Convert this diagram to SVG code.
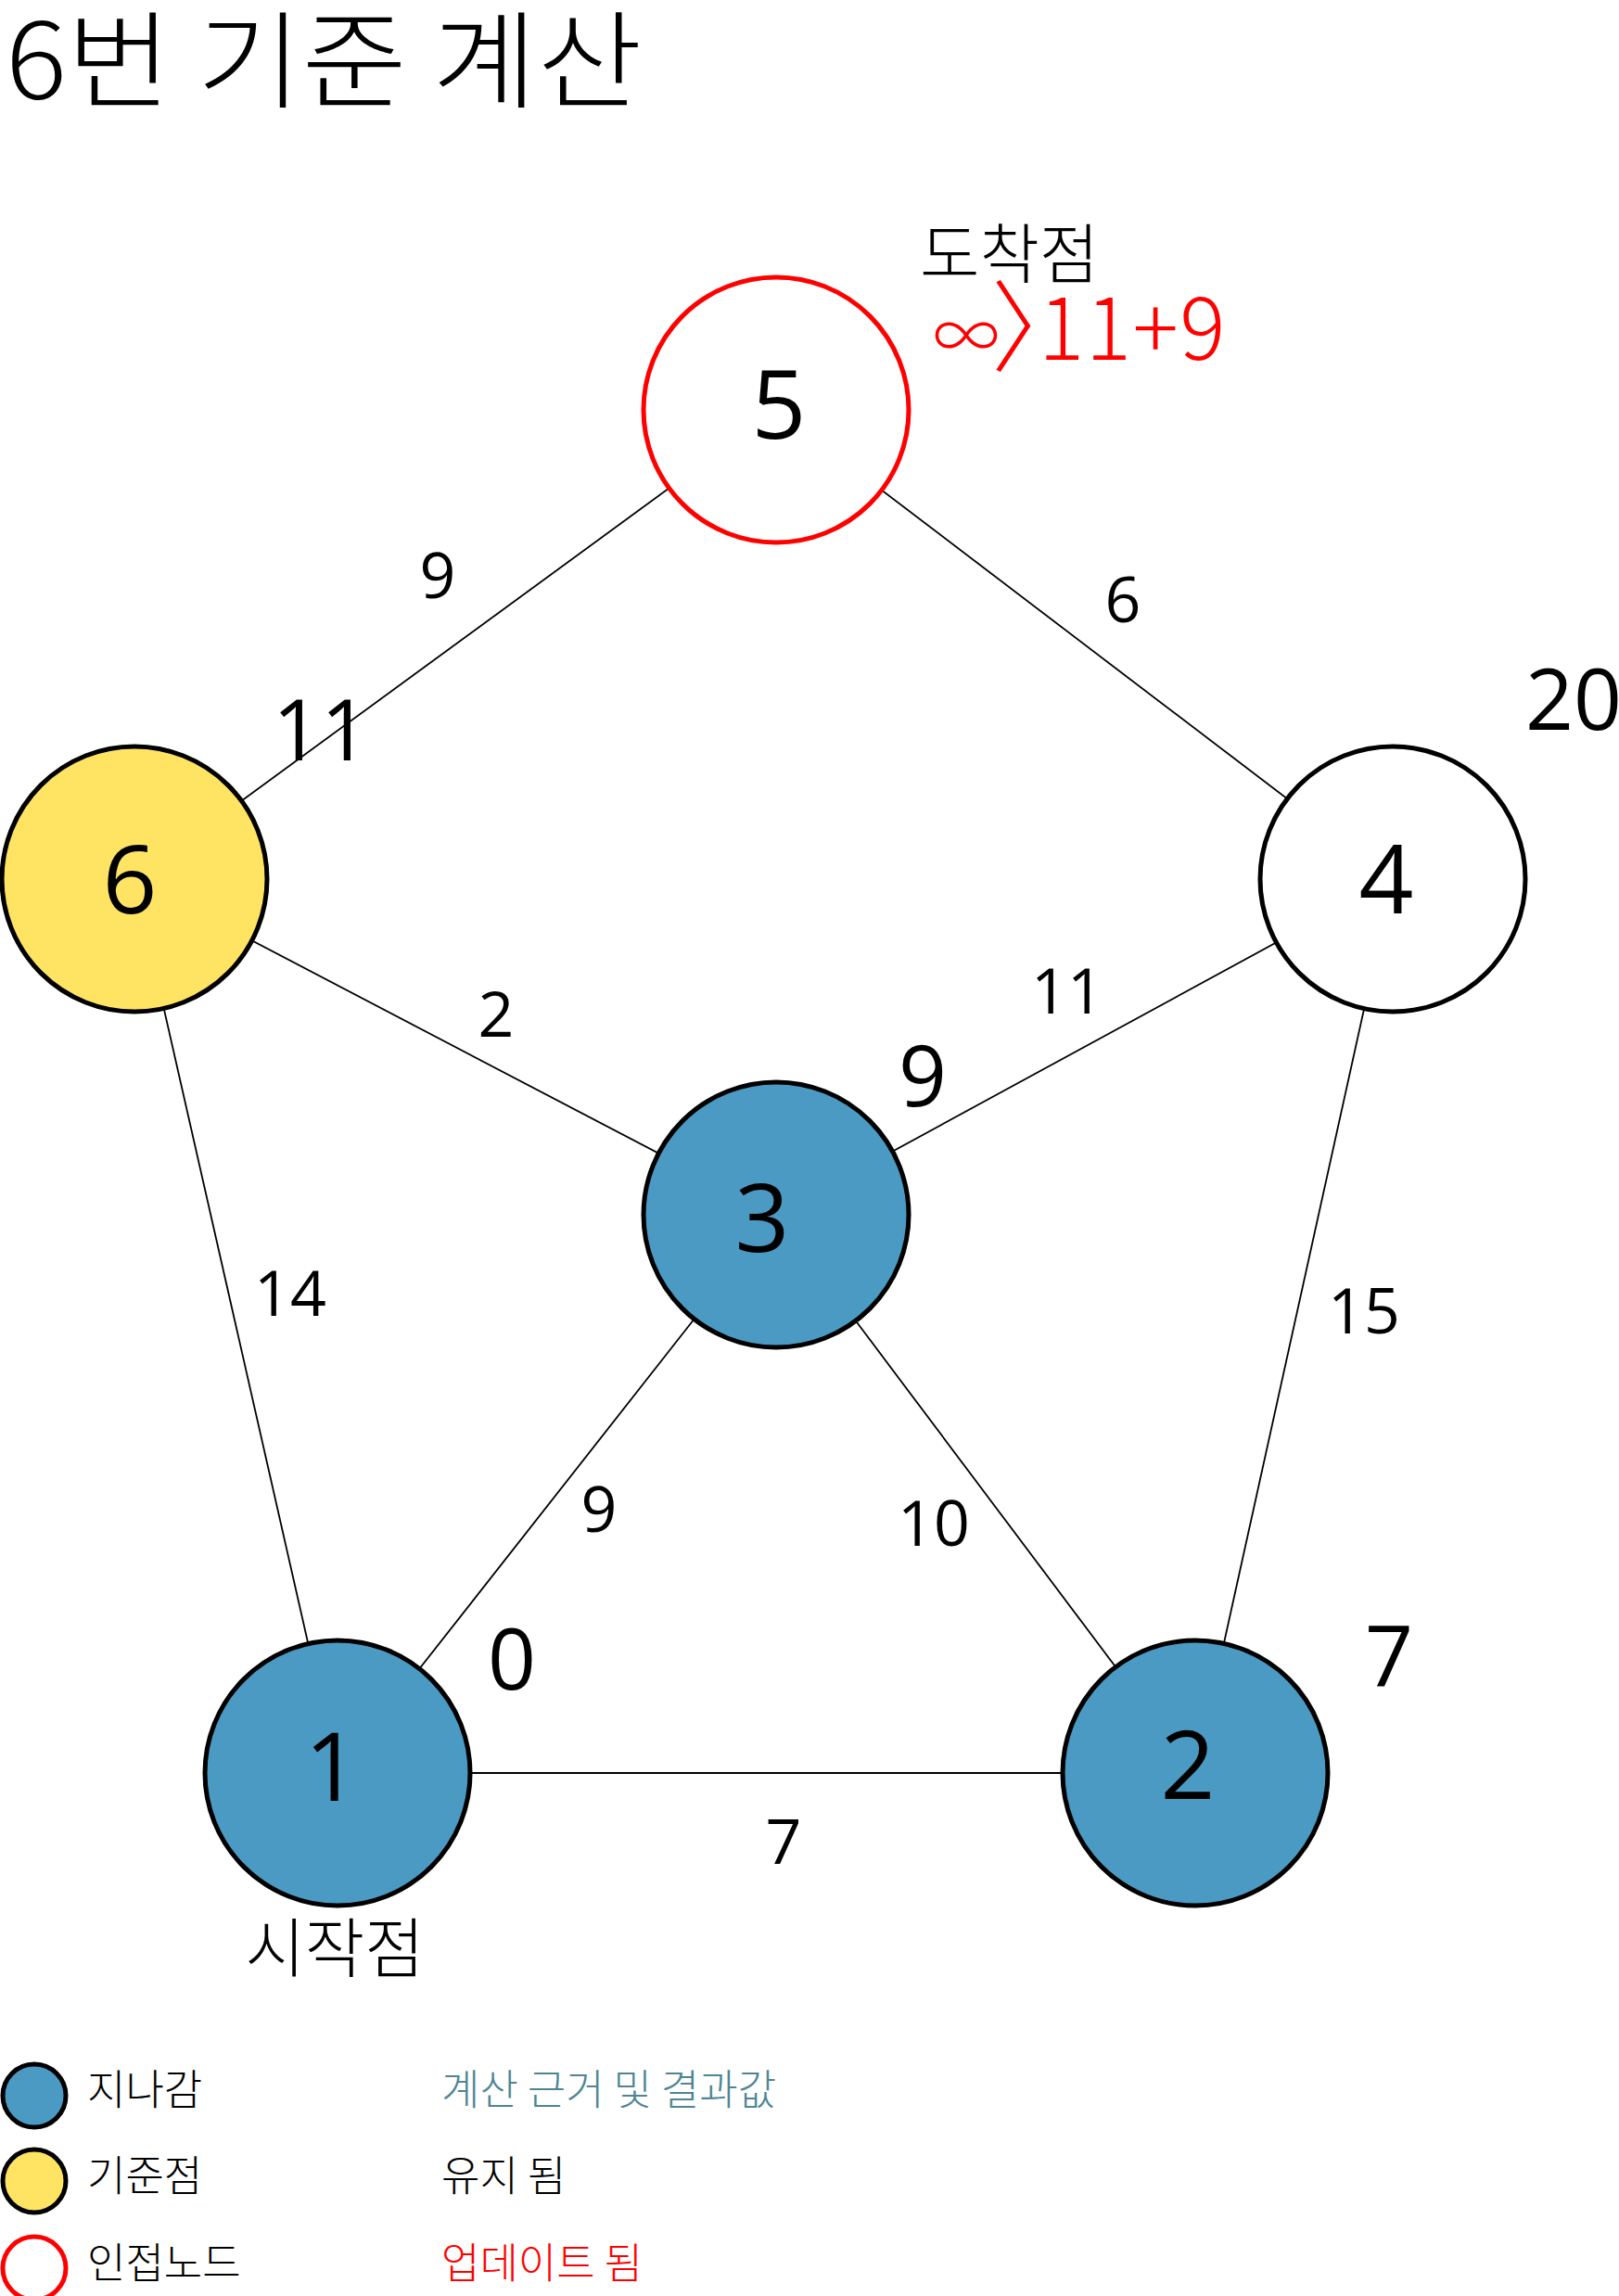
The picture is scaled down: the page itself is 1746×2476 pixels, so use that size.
<svg xmlns="http://www.w3.org/2000/svg" width="1746" height="2476" viewBox="0 0 1746 2476">
<style>
.edge{stroke:#000;stroke-width:1.8;fill:none}
.node{stroke:#000;stroke-width:5}
.visited{fill:#4A9AC4}
.pivot{fill:#FFE363}
.plain{fill:#fff}
.adj{fill:#fff;stroke:#FF0000}
.num{font-family:"Open Sans","Noto Sans",sans-serif;font-size:103px;fill:#000;text-anchor:middle}
.w{font-family:"Open Sans","Noto Sans",sans-serif;font-size:68px;fill:#000;text-anchor:middle}
.v{font-family:"Open Sans","Noto Sans",sans-serif;font-size:91px;fill:#000;text-anchor:middle}
.kr{font-family:"Noto Sans CJK KR","Noto Sans",sans-serif;fill:#000;font-weight:300}
.lg{font-size:45px}
</style>
<rect width="1746" height="2476" fill="#fff"/>
<text class="kr" x="0" y="107" font-size="114" transform="translate(6,0) scale(1.08,1)">6번 기준 계산</text>
<g id="connectors">
<line class="edge" x1="145" y1="948" x2="837" y2="442"/>
<line class="edge" x1="837" y1="442" x2="1502" y2="948"/>
<line class="edge" x1="145" y1="948" x2="837" y2="1310"/>
<line class="edge" x1="145" y1="948" x2="364" y2="1912"/>
<line class="edge" x1="837" y1="1310" x2="1502" y2="948"/>
<line class="edge" x1="1502" y1="948" x2="1289" y2="1912"/>
<line class="edge" x1="837" y1="1310" x2="364" y2="1912"/>
<line class="edge" x1="837" y1="1310" x2="1289" y2="1912"/>
<line class="edge" x1="364" y1="1912" x2="1289" y2="1912"/>
</g>
<g id="edge-labels">
<text class="w" x="472" y="645">9</text>
<text class="w" x="1211" y="671">6</text>
<text class="w" x="535" y="1118">2</text>
<text class="w" x="1151" y="1093">11</text>
<text class="w" x="313" y="1419">14</text>
<text class="w" x="1471" y="1438">15</text>
<text class="w" x="646" y="1652">9</text>
<text class="w" x="1007" y="1667">10</text>
<text class="w" x="845" y="2010">7</text>
</g>
<g id="node5">
<circle class="node adj" cx="837" cy="442" r="143"/>
<text class="num" x="840" y="473">5</text>
</g>
<g id="node6">
<circle class="node pivot" cx="145" cy="948" r="143"/>
<text class="num" x="140" y="985">6</text>
</g>
<g id="node4">
<circle class="node plain" cx="1502" cy="948" r="143"/>
<text class="num" x="1495" y="985">4</text>
</g>
<g id="node3">
<circle class="node visited" cx="837" cy="1310" r="143"/>
<text class="num" x="822" y="1350">3</text>
</g>
<g id="node1">
<circle class="node visited" cx="364" cy="1912" r="143"/>
<text class="num" x="358" y="1942">1</text>
</g>
<g id="node2">
<circle class="node visited" cx="1289" cy="1912" r="143"/>
<text class="num" x="1281" y="1940">2</text>
</g>
<g id="values">
<text class="v" x="346" y="820">11</text>
<text class="v" x="1697" y="787">20</text>
<text class="v" x="995" y="1193">9</text>
<text class="v" x="552" y="1822">0</text>
<text class="v" x="1498" y="1819">7</text>
</g>
<g id="annotations">
<text class="kr" x="992" y="300" font-size="70">도착점</text>
<text class="kr" y="388" font-size="92" style="fill:#FF0000"><tspan x="1006" font-size="72">∞</tspan><tspan x="1069" y="392" font-size="107">〉</tspan><tspan x="1120" y="388" letter-spacing="1.5">11+9</tspan></text>
<text class="kr" x="361" y="2127" font-size="70" text-anchor="middle">시작점</text>
</g>
<g id="legend">
<circle cx="37" cy="2260" r="34" fill="#4A9AC4" stroke="#000" stroke-width="5"/>
<circle cx="37" cy="2352" r="34" fill="#FFE363" stroke="#000" stroke-width="5"/>
<circle cx="37" cy="2446" r="34" fill="#fff" stroke="#FF0000" stroke-width="5"/>
<text class="kr lg" x="94" y="2270">지나감</text>
<text class="kr lg" x="94" y="2363">기준점</text>
<text class="kr lg" x="94" y="2457">인접노드</text>
<text class="kr lg" x="476" y="2270" style="fill:#4D8593">계산 근거 및 결과값</text>
<text class="kr lg" x="476" y="2363">유지 됨</text>
<text class="kr lg" x="476" y="2457" style="fill:#FF0000">업데이트 됨</text>
</g>
</svg>
